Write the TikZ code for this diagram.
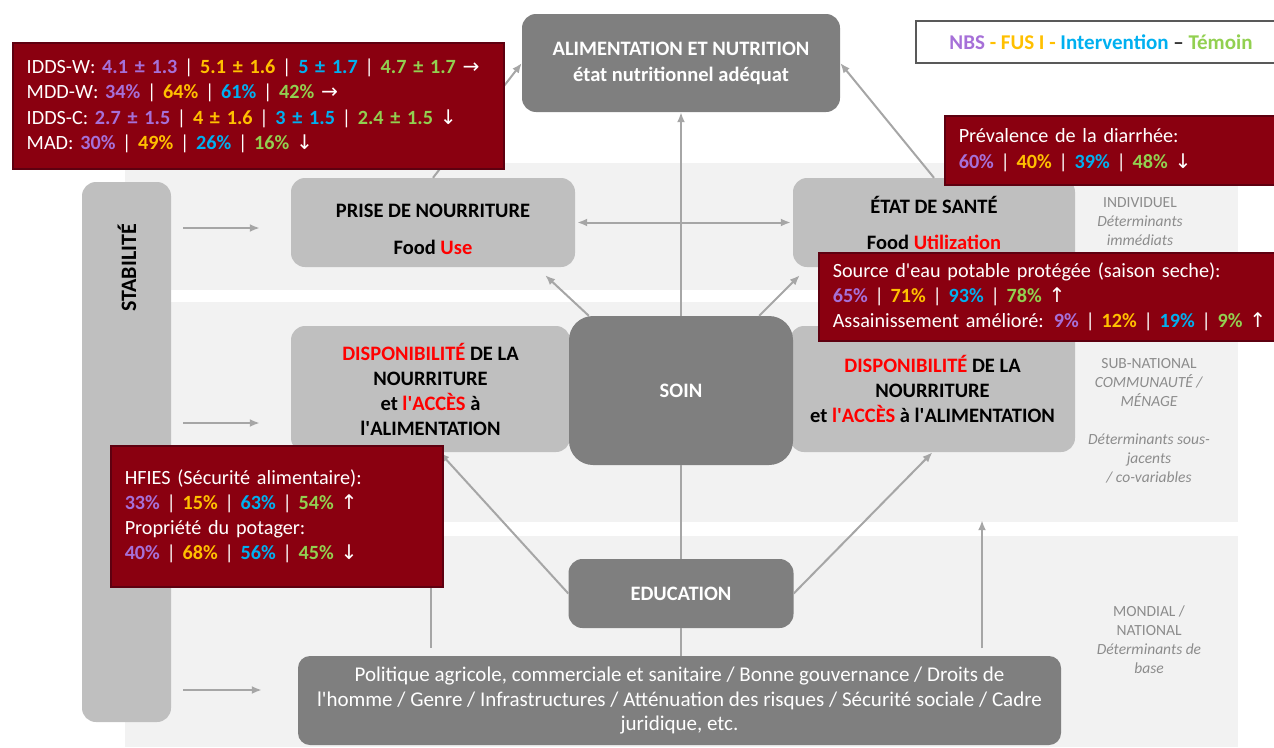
\documentclass[tikz,border=0pt]{standalone}
\usepackage{fontspec}
\setmainfont{Carlito}
\newfontfamily\arrowfont{DejaVu Sans}
\usepackage{xcolor}
\usetikzlibrary{arrows.meta}

\definecolor{boxdark}{HTML}{7F7F7F}
\definecolor{boxlight}{HTML}{BFBFBF}
\definecolor{bandgray}{HTML}{F2F2F2}
\definecolor{wine}{HTML}{8A0010}
\definecolor{wineedge}{HTML}{5E0010}
\definecolor{linegray}{HTML}{A6A6A6}
\definecolor{sidegray}{HTML}{8C8C8C}
\definecolor{hired}{HTML}{FF0000}
\definecolor{cnbs}{HTML}{A670D8}
\definecolor{cfus}{HTML}{FFC000}
\definecolor{cint}{HTML}{00B0F0}
\definecolor{ctem}{HTML}{92D050}

\newcommand{\vN}[1]{\textcolor{cnbs}{\textbf{#1}}}
\newcommand{\vF}[1]{\textcolor{cfus}{\textbf{#1}}}
\newcommand{\vI}[1]{\textcolor{cint}{\textbf{#1}}}
\newcommand{\vT}[1]{\textcolor{ctem}{\textbf{#1}}}
\newcommand{\uparr}{{\arrowfont ↑}}
\newcommand{\dnarr}{{\arrowfont ↓}}
\newcommand{\rtarr}{{\arrowfont →}}
\newcommand{\apos}{\textquotesingle}

\begin{document}
\begin{tikzpicture}[x=1pt, y=-1pt,
  ltbox/.style={fill=boxlight, rounded corners=14pt, align=center, inner sep=0pt,
    font=\fontsize{20.5}{25}\selectfont\bfseries},
  dkbox/.style={fill=boxdark, text=white, rounded corners=14pt, align=center, inner sep=0pt,
    font=\fontsize{20.5}{26}\selectfont\bfseries},
  winebox/.style={fill=wine, draw=wineedge, line width=1.5pt, text=white, align=left,
    anchor=north west, inner xsep=14pt, font=\fontsize{20.2}{25.3}\selectfont},
  side/.style={text=sidegray, align=center, font=\fontsize{15.5}{19}\selectfont},
  arr/.style={draw=linegray, line width=2pt, -{Latex[length=10pt,width=8pt]}},
  arrboth/.style={draw=linegray, line width=2pt, {Latex[length=10pt,width=8pt]}-{Latex[length=10pt,width=8pt]}},
  link/.style={draw=linegray, line width=2pt}]
\useasboundingbox (0,0) rectangle (1274,747);

% bands
\fill[bandgray] (125,163) rectangle (1238,290);
\fill[bandgray] (125,302) rectangle (1238,522);
\fill[bandgray] (125,536) rectangle (1238,747);

% boxes
\node[dkbox, minimum width=318pt, minimum height=98pt] (alim) at (681,63)
  {ALIMENTATION ET NUTRITION\\ état nutritionnel adéquat};
\node[ltbox, minimum width=284pt, minimum height=89pt] (prise) at (433,222.5)
  {\rule{0pt}{27pt}PRISE DE NOURRITURE\\[12pt] Food \textcolor{hired}{Use}};
\node[ltbox, minimum width=282pt, minimum height=89pt] (sante) at (934,222.5)
  {ÉTAT DE SANTÉ\\[11pt] Food \textcolor{hired}{Utilization}};
\node[ltbox, minimum width=279pt, minimum height=126pt] (dispoL) at (430.5,389)
  {\textcolor{hired}{DISPONIBILITÉ} DE LA\\ NOURRITURE\\ et \textcolor{hired}{l\apos ACCÈS} à\\ l\apos ALIMENTATION};
\node[ltbox, minimum width=285pt, minimum height=126pt] (dispoR) at (932.5,389)
  {\textcolor{hired}{DISPONIBILITÉ} DE LA\\ NOURRITURE\\ et \textcolor{hired}{l\apos ACCÈS} à l\apos ALIMENTATION};
\node[dkbox, rounded corners=24pt, minimum width=224pt, minimum height=149pt] (soin) at (681,390.5) {SOIN};
\node[dkbox, minimum width=225pt, minimum height=69pt] (educ) at (681,593.5) {EDUCATION};
\node[dkbox, rounded corners=12pt, minimum width=763pt, minimum height=89pt,
  font=\fontsize{21}{24.5}\selectfont] (politique) at (679.5,700.5)
  {Politique agricole, commerciale et sanitaire / Bonne gouvernance / Droits de\\
   l\apos homme / Genre / Infrastructures / Atténuation des risques / Sécurité sociale / Cadre\\
   juridique, etc.};

% stabilite
\node[fill=boxlight, rounded corners=14pt, minimum width=89pt, minimum height=540pt] (stab) at (126.5,452) {};
\node[rotate=90, font=\fontsize{22}{25}\selectfont\bfseries] (stabtxt) at (127,268) {STABILITÉ};
\coordinate (stabA) at (183,228);
\coordinate (stabB) at (183,423);
\coordinate (stabC) at (183,690);
\draw[arr, shorten >=31pt] (stabA) -- (stabA -| prise.west);
\draw[arr, shorten >=31pt] (stabB) -- (stabB -| dispoL.west);
\draw[arr, shorten >=36pt] (stabC) -- (stabC -| politique.west);

% connectors
\draw[arrboth, shorten <=2pt, shorten >=2pt] (prise.east) -- (sante.west);
\draw[arr] (prise.north) -- (alim.west);
\draw[arr] (sante.north) -- (alim.east);
\draw[arr] (soin.north) -- (alim.south);
\draw[arr] ([xshift=20pt]soin.north west) -- ([xshift=-30pt,yshift=-8pt]prise.south east);
\draw[arr] ([xshift=-34pt]soin.north east) -- ([xshift=7pt,yshift=-8pt]sante.south west);
\draw[link] (educ.north) -- (soin.south);
\draw[link] (educ.south) -- (educ.south |- politique.north);
\draw[arr] (educ.west) -- ([xshift=9pt]dispoL.south);
\draw[arr] (educ.east) -- (dispoR.south);
\draw[arr, shorten <=8pt] (politique.north -| dispoL.south) -- (dispoL.south);
\coordinate (polR) at (982,656);
\draw[arr, shorten <=8pt, shorten >=68pt] (polR) -- (polR |- dispoR.south);

% levels
\node[side] (sideA) at (1140,222) {INDIVIDUEL\\ \textit{Déterminants}\\ \textit{immédiats}};
\node[side] (sideB) at (1149,421) {SUB-NATIONAL\\ \textit{COMMUNAUTÉ /}\\ \textit{MÉNAGE}\\[19pt]
  \textit{Déterminants sous-}\\ \textit{jacents}\\ \textit{/ co-variables}};
\node[side] (sideC) at (1149,639.5) {MONDIAL /\\ NATIONAL\\ \textit{Déterminants de}\\ \textit{base}};

% results
\node[winebox, text width=463pt, minimum height=126pt] (resA) at (12,42)
  {IDDS-W: \vN{4.1 ± 1.3} | \vF{5.1 ± 1.6} | \vI{5 ± 1.7} | \vT{4.7 ± 1.7} \rtarr\\
   MDD-W: \vN{34\%} | \vF{64\%} | \vI{61\%} | \vT{42\%} \rtarr\\
   IDDS-C: \vN{2.7 ± 1.5} | \vF{4 ± 1.6} | \vI{3 ± 1.5} | \vT{2.4 ± 1.5} \dnarr\\
   MAD: \vN{30\%} | \vF{49\%} | \vI{26\%} | \vT{16\%} \dnarr};
\node[winebox, text width=312pt, minimum height=69pt] (resB) at (944,115)
  {Prévalence de la diarrhée:\\
   \vN{60\%} | \vF{40\%} | \vI{39\%} | \vT{48\%} \dnarr};
\node[winebox, text width=438pt, minimum height=88pt] (resC) at (818,252)
  {Source d\apos eau potable protégée (saison seche):\\
   \vN{65\%} | \vF{71\%} | \vI{93\%} | \vT{78\%} \uparr\\
   Assainissement amélioré: \vN{9\%} | \vF{12\%} | \vI{19\%} | \vT{9\%} \uparr};
\node[winebox, text width=304pt, minimum height=141pt] (resD) at (110,445)
  {HFIES (Sécurité alimentaire):\\
   \vN{33\%} | \vF{15\%} | \vI{63\%} | \vT{54\%} \uparr\\
   Propriété du potager:\\
   \vN{40\%} | \vF{68\%} | \vI{56\%} | \vT{45\%} \dnarr};

% legend
\node[draw=black!65, line width=2pt, fill=white, anchor=west, minimum width=370pt, minimum height=42pt,
  font=\fontsize{21}{24}\selectfont\bfseries] (legend) at (915,42)
  {\textcolor{cnbs}{NBS} \textcolor{cfus}{- FUS I -} \textcolor{cint}{Intervention} \textcolor{black!80}{–} \textcolor{ctem}{Témoin}};
\end{tikzpicture}
\end{document}
